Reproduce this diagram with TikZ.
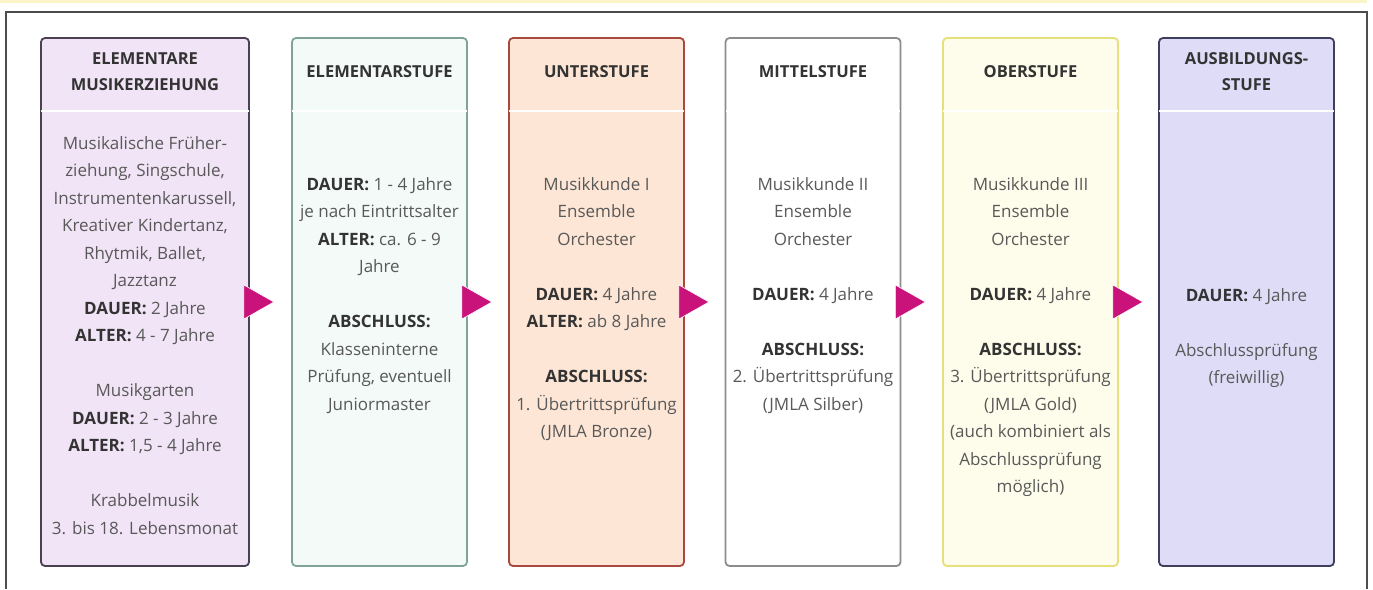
\documentclass[tikz,border=0pt]{standalone}
\usepackage{fontspec}
\setmainfont{Open Sans}
\definecolor{framec}{HTML}{4D4D4D}
\definecolor{topband}{HTML}{FAF5C9}
\definecolor{cAfill}{HTML}{F0E4F6}
\definecolor{cAdraw}{HTML}{4A4254}
\definecolor{cBfill}{HTML}{F3FAF7}
\definecolor{cBdraw}{HTML}{7FA395}
\definecolor{cCfill}{HTML}{FDE6D5}
\definecolor{cCdraw}{HTML}{A8493E}
\definecolor{cDfill}{HTML}{FFFFFF}
\definecolor{cDdraw}{HTML}{8C8C8C}
\definecolor{cEfill}{HTML}{FEFDEB}
\definecolor{cEdraw}{HTML}{E5E07C}
\definecolor{cFfill}{HTML}{DEDCF6}
\definecolor{cFdraw}{HTML}{403E5E}
\definecolor{arrowc}{HTML}{C9137B}
\definecolor{bodytext}{HTML}{595959}
\definecolor{lbltext}{HTML}{333333}
\newcommand\lab[1]{{\bfseries\color{lbltext}#1}}
\begin{document}
\begin{tikzpicture}[x=1pt,y=-1pt,
  stagebox/.style={rectangle, rounded corners=4pt, line width=1.8pt, inner sep=0pt, minimum height=528pt},
  hdr/.style={font=\fontsize{16.5}{26}\selectfont\bfseries, text=lbltext, align=center, inner sep=0pt},
  body/.style={font=\fontsize{17}{27.5}\selectfont, text=bodytext, align=center, inner sep=0pt, anchor=north},
  sepline/.style={white, line width=1.6pt},
  tri/.style={fill=arrowc, draw=white, line width=0.6pt}]
\useasboundingbox (0,0) rectangle (1373,589);
\fill[white] (0,0) rectangle (1373,589);
\fill[topband] (0,0) rectangle (1367,3);
\draw[framec, line width=1.4pt] (6,589) -- (6,12) -- (1367,12) -- (1367,589);

% boxes
\node[stagebox, fill=cAfill, draw=cAdraw, minimum width=208pt] (b1) at (145,302) {};
\node[stagebox, fill=cBfill, draw=cBdraw, minimum width=175pt] (b2) at (379.5,302) {};
\node[stagebox, fill=cCfill, draw=cCdraw, minimum width=175pt] (b3) at (596.5,302) {};
\node[stagebox, fill=cDfill, draw=cDdraw, minimum width=175pt] (b4) at (813,302) {};
\node[stagebox, fill=cEfill, draw=cEdraw, minimum width=175pt] (b5) at (1030.5,302) {};
\node[stagebox, fill=cFfill, draw=cFdraw, minimum width=175pt] (b6) at (1246.5,302) {};

% header separators
\foreach \b in {b1,b2,b3,b4,b5,b6}{
  \draw[sepline] ([xshift=1pt]\b.west |- 0,111) -- ([xshift=-1pt]\b.east |- 0,111);
}

% headers
\node[hdr] (h1) at (145,72) {ELEMENTARE\\MUSIKERZIEHUNG};
\node[hdr] (h2) at (379.5,72) {ELEMENTARSTUFE};
\node[hdr] (h3) at (596.5,72) {UNTERSTUFE};
\node[hdr] (h4) at (813,72) {MITTELSTUFE};
\node[hdr] (h5) at (1030.5,72) {OBERSTUFE};
\node[hdr] (h6) at (1246.5,72) {AUSBILDUNGS-\\STUFE};

% bodies
\node[body] (t1) at (145,136) {Musikalische Früher-\\ziehung, Singschule,\\Instrumentenkarussell,\\Kreativer Kindertanz,\\Rhytmik, Ballet,\\Jazztanz\\\lab{DAUER:} 2 Jahre\\\lab{ALTER:} 4 - 7 Jahre\\[27.5pt]Musikgarten\\\lab{DAUER:} 2 - 3 Jahre\\\lab{ALTER:} 1,5 - 4 Jahre\\[27.5pt]Krabbelmusik\\3. bis 18. Lebensmonat};
\node[body] (t2) at (379.5,177) {\lab{DAUER:} 1 - 4 Jahre\\je nach Eintrittsalter\\\lab{ALTER:} ca. 6 - 9\\Jahre\\[27.5pt]\lab{ABSCHLUSS:}\\Klasseninterne\\Prüfung, eventuell\\Juniormaster};
\node[body] (t3) at (596.5,177) {Musikkunde I\\Ensemble\\Orchester\\[27.5pt]\lab{DAUER:} 4 Jahre\\\lab{ALTER:} ab 8 Jahre\\[27.5pt]\lab{ABSCHLUSS:}\\1. Übertrittsprüfung\\(JMLA Bronze)};
\node[body] (t4) at (813,177) {Musikkunde II\\Ensemble\\Orchester\\[27.5pt]\lab{DAUER:} 4 Jahre\\[27.5pt]\lab{ABSCHLUSS:}\\2. Übertrittsprüfung\\(JMLA Silber)};
\node[body] (t5) at (1030.5,177) {Musikkunde III\\Ensemble\\Orchester\\[27.5pt]\lab{DAUER:} 4 Jahre\\[27.5pt]\lab{ABSCHLUSS:}\\3. Übertrittsprüfung\\(JMLA Gold)\\(auch kombiniert als\\Abschlussprüfung\\möglich)};
\node[body] (t6) at (1246.5,288) {\lab{DAUER:} 4 Jahre\\[27.5pt]Abschlussprüfung\\(freiwillig)};

% arrows
\foreach \b in {b1,b2,b3,b4,b5}{
  \filldraw[tri] ([xshift=-6pt,yshift=17pt]\b.east) -- ([xshift=24pt]\b.east) -- ([xshift=-6pt,yshift=-17pt]\b.east) -- cycle;
}
\end{tikzpicture}
\end{document}
